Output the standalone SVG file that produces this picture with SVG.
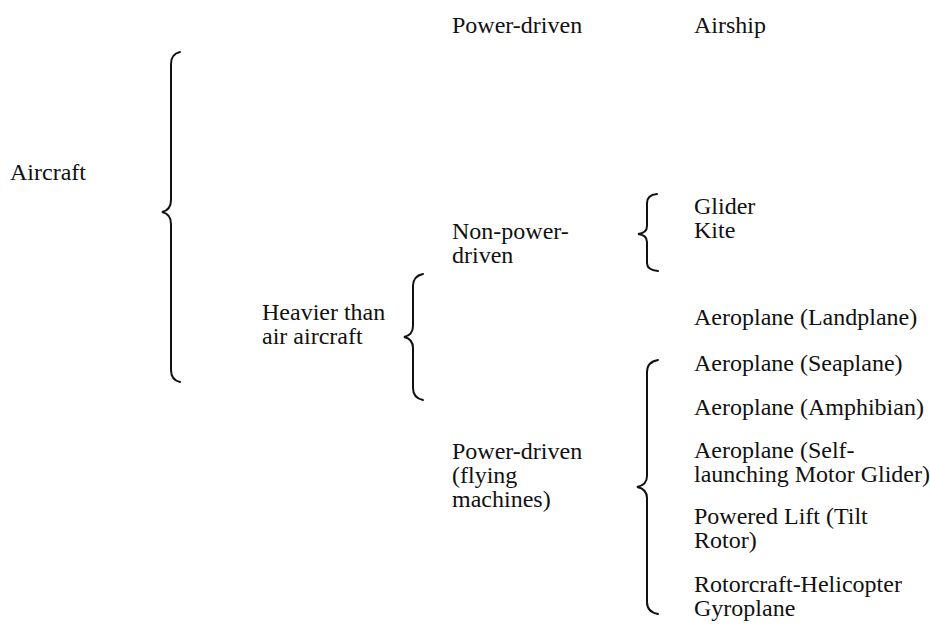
<svg xmlns="http://www.w3.org/2000/svg" width="930" height="643" viewBox="0 0 930 643">
<style>
text{font-family:"Liberation Serif","Times New Roman",serif;font-size:24px;fill:#111}
.br{fill:none;stroke:#111;stroke-width:2;stroke-linecap:round}
</style>
<rect width="930" height="643" fill="#fff"/>
<g id="connectors">
<path class="br" d="M180,52 Q171,54 171,64 L171,200 Q171,210 162,212 Q171,214 171,224 L171,370 Q171,380 180,382"/>
<path class="br" d="M423,274 Q413,276 413,286 L413,326 Q413,335 404,337 Q413,339 413,348 L413,388 Q413,398 423,400"/>
<path class="br" d="M657,194 Q647,195 647,203 L647,226 Q647,233 638,234 Q647,235 647,242 L647,263 Q647,270 658,271"/>
<path class="br" d="M658,360 Q647,362 647,372 L647,476 Q647,485 637,487 Q647,489 647,498 L647,602 Q647,612 658,614"/>
</g>
<g id="aircraft"><text x="10" y="180">Aircraft</text></g>
<g id="lighter-power"><text x="452" y="33">Power-driven</text></g>
<g id="airship"><text x="694" y="33">Airship</text></g>
<g id="heavier"><text x="262" y="320">Heavier than</text><text x="262" y="344">air aircraft</text></g>
<g id="non-power"><text x="452" y="239">Non-power-</text><text x="452" y="263">driven</text></g>
<g id="glider"><text x="694" y="214">Glider</text></g>
<g id="kite"><text x="694" y="238">Kite</text></g>
<g id="power-driven"><text x="452" y="459">Power-driven</text><text x="452" y="483">(flying</text><text x="452" y="507">machines)</text></g>
<g id="landplane"><text x="694" y="325">Aeroplane (Landplane)</text></g>
<g id="seaplane"><text x="694" y="371">Aeroplane (Seaplane)</text></g>
<g id="amphibian"><text x="694" y="415">Aeroplane (Amphibian)</text></g>
<g id="motor-glider"><text x="694" y="458">Aeroplane (Self-</text><text x="694" y="482">launching Motor Glider)</text></g>
<g id="powered-lift"><text x="694" y="524">Powered Lift (Tilt</text><text x="694" y="548">Rotor)</text></g>
<g id="rotorcraft"><text x="694" y="592">Rotorcraft-Helicopter</text><text x="694" y="616">Gyroplane</text></g>
</svg>
